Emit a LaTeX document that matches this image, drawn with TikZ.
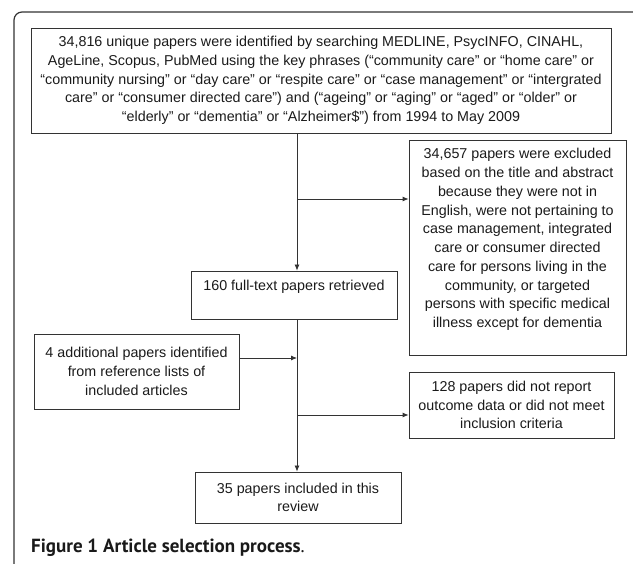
\documentclass[tikz,border=0pt]{standalone}
\usepackage{fontspec}
\newfontfamily\boxfont{Liberation Sans}
\newfontfamily\capfont{PT Sans}
\usetikzlibrary{arrows.meta}
\definecolor{fline}{HTML}{333333}
\definecolor{ftext}{HTML}{1A1A1A}
\tikzset{
  stagebox/.style = {draw=fline, line width=0.8pt, rectangle, align=center,
                     inner sep=0pt, text=ftext,
                     font=\boxfont\fontsize{14.3}{18.75}\selectfont},
  flow/.style     = {-{Latex[length=6pt,width=5pt]}, line width=0.8pt, fline},
}

\begin{document}
\begin{tikzpicture}[x=1pt, y=-1pt]
\useasboundingbox (0,0) rectangle (633,564);
% ---- outer frame ----
\draw[fline, line width=1.2pt, rounded corners=8pt] (14,564) -- (14,12) -- (633,12);
% ---- search and screening ----
\node[stagebox, minimum width=580pt, minimum height=105pt] (search) at (321,80.5)
      {34,816 unique papers were identified by searching MEDLINE, PsycINFO, CINAHL,\\
       AgeLine, Scopus, PubMed using the key phrases (“community care” or “home care” or\\
       “community nursing” or “day care” or “respite care” or “case management” or “intergrated\\
       care” or “consumer directed care”) and (“ageing” or “aging” or “aged” or “older” or\\
       “elderly” or “dementia” or “Alzheimer\$”) from 1994 to May 2009};
\node[stagebox, minimum width=217pt, minimum height=215pt] (excluded) at (517.5,247.5)
      {34,657 papers were excluded\\ based on the title and abstract\\
       because they were not in\\ English, were not pertaining to\\
       case management, integrated\\ care or consumer directed\\
       care for persons living in the\\ community, or targeted\\
       persons with specific medical\\ illness except for dementia\\ \mbox{}};
\node[stagebox, minimum width=206pt, minimum height=48pt] (retrieved) at (294,295)
      {160 full-text papers retrieved\\ \mbox{}};
% ---- hand search and final set ----
\node[stagebox, minimum width=205pt, minimum height=75pt] (extra) at (136.5,371.5)
      {4 additional papers identified\\ from reference lists of\\ included articles};
\node[stagebox, minimum width=205pt, minimum height=66pt] (excluded2) at (511.5,405)
      {128 papers did not report\\ outcome data or did not meet\\ inclusion criteria};
\node[stagebox, minimum width=206pt, minimum height=51pt] (included) at (298,497.5)
      {35 papers included in this\\ review};
% ---- connectors ----
\coordinate (split1) at (297,199);
\coordinate (join) at (297,358);
\coordinate (split2) at (297,415);
\draw[flow] (search.south -| split1) -- (retrieved.north -| split1);
\draw[flow] (split1) -- (excluded.west |- split1);
\draw[flow] (retrieved.south -| split1) -- (included.north -| split1);
\draw[flow] (extra.east |- join) -- (join);
\draw[flow] (split2) -- (excluded2.west |- split2);
% ---- caption ----
\node[anchor=base west, inner sep=0pt, text=ftext,
      font=\capfont\fontsize{19}{22}\selectfont] (caption) at (31,552)
      {\textbf{Figure 1 Article selection process}.};
\end{tikzpicture}
\end{document}
